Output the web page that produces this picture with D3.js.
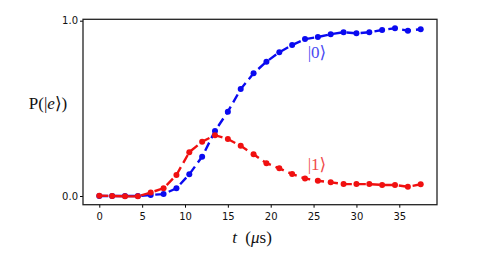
<!DOCTYPE html>
<html lang="en">
<head>
<meta charset="UTF-8" />
<title>index</title>
<script src="https://d3js.org/d3.v7.min.js"></script>
<style>
  body { margin: 0; background: white; }
  .tick text { font-family: "DejaVu Sans", sans-serif; font-size: 10px; fill: #111; }
  .lbl { font-family: "Liberation Serif", "DejaVu Serif", serif; }
</style>
</head>
<body>
<div id="my_dataviz"></div>
<script>
// time points (microseconds)
var times = [0, 1.5, 3, 4.5, 6, 7.5, 9, 10.5, 12, 13.5, 15, 16.5, 18, 19.5,
             21, 22.5, 24, 25.5, 27, 28.5, 30, 31.5, 33, 34.5, 36, 37.5];
// population of |0>
var state0 = [0.0, 0.0, 0.0, 0.0, 0.006, 0.011, 0.044, 0.124, 0.224, 0.371, 0.481, 0.61, 0.70, 0.766,
              0.82, 0.861, 0.895, 0.907, 0.923, 0.934, 0.928, 0.934, 0.947, 0.957, 0.943, 0.951];
// population of |1>
var state1 = [0.002, 0.0, -0.002, -0.002, 0.02, 0.044, 0.12, 0.25, 0.31, 0.347, 0.325, 0.286, 0.238, 0.187,
              0.158, 0.125, 0.10, 0.087, 0.078, 0.068, 0.068, 0.068, 0.063, 0.063, 0.053, 0.067];
var xTicks = [0, 5, 10, 15, 20, 25, 30, 35];
var yTicks = [0, 1];

var W = 493, H = 257;
var svg = d3.select("#my_dataviz").append("svg")
  .attr("width", W).attr("height", H);

var x = d3.scaleLinear().domain([-1.9, 39.4]).range([83, 437]);
var y = d3.scaleLinear().domain([-0.0496, 1.008]).range([204.7, 19.3]);

// axes
svg.append("g")
  .attr("transform", "translate(0," + y.range()[0] + ")")
  .call(d3.axisBottom(x).tickValues(xTicks).tickSize(3).tickPadding(5).tickFormat(d3.format("d")))
  .call(function(g) { g.select(".domain").remove(); });
svg.append("g")
  .attr("transform", "translate(" + x.range()[0] + ",0)")
  .call(d3.axisLeft(y).tickValues(yTicks).tickSize(3).tickPadding(2).tickFormat(d3.format(".1f")))
  .call(function(g) { g.select(".domain").remove(); });

// frame
svg.append("rect")
  .attr("x", x.range()[0]).attr("y", y.range()[1])
  .attr("width", x.range()[1] - x.range()[0])
  .attr("height", y.range()[0] - y.range()[1])
  .attr("fill", "none").attr("stroke", "#222").attr("stroke-width", 1.3);

function series(vals, color) {
  var pts = times.map(function(t, i) { return [t, vals[i]]; });
  var line = d3.line().x(function(d) { return x(d[0]); }).y(function(d) { return y(d[1]); });
  svg.append("path").datum(pts)
    .attr("d", line)
    .attr("fill", "none")
    .attr("stroke", color)
    .attr("stroke-width", 2.4)
    .attr("stroke-dasharray", "9,5");
  svg.append("g").selectAll("circle").data(pts).enter().append("circle")
    .attr("cx", function(d) { return x(d[0]); })
    .attr("cy", function(d) { return y(d[1]); })
    .attr("r", 3)
    .attr("fill", color);
}
series(state0, "#0a0af0");
series(state1, "#f01010");

// state labels
svg.append("text").attr("class", "lbl")
  .attr("x", 317).attr("y", 58).attr("text-anchor", "middle")
  .attr("fill", "#4a4af2").attr("font-size", 17).text("|0\u27E9");
svg.append("text").attr("class", "lbl")
  .attr("x", 317).attr("y", 170).attr("text-anchor", "middle")
  .attr("fill", "#f04a4a").attr("font-size", 17).text("|1\u27E9");

// axis labels
var yl = svg.append("text").attr("class", "lbl")
  .attr("x", 48).attr("y", 109).attr("text-anchor", "middle")
  .attr("font-size", 17).attr("fill", "#111");
yl.append("tspan").text("P(|");
yl.append("tspan").attr("font-style", "italic").text("e");
yl.append("tspan").text("\u27E9)");

var xl = svg.append("text").attr("class", "lbl")
  .attr("x", 252).attr("y", 243).attr("text-anchor", "middle")
  .attr("font-size", 17).attr("fill", "#111");
xl.append("tspan").attr("font-style", "italic").text("t");
xl.append("tspan").text("\u2002(");
xl.append("tspan").attr("font-style", "italic").text("\u03BC");
xl.append("tspan").text("s)");
</script>
</body>
</html>
